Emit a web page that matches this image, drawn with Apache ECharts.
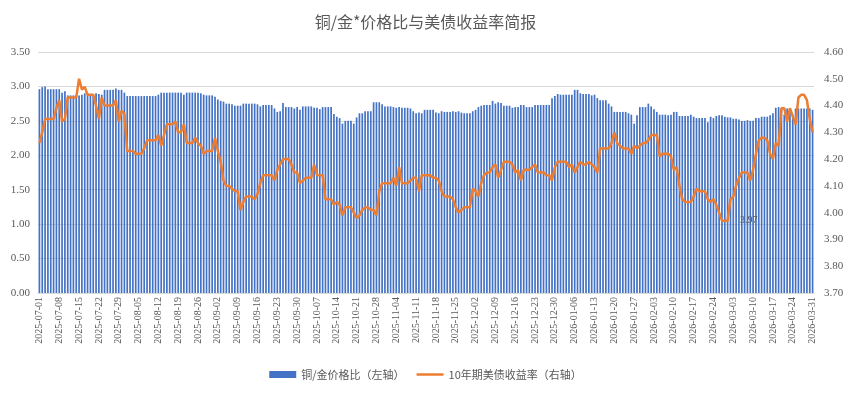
<!DOCTYPE html>
<html>
<head>
<meta charset="utf-8">
<script src="https://cdn.jsdelivr.net/npm/echarts@6/dist/echarts.min.js"></script>
<style>
html, body { margin: 0; padding: 0; background: #fff; }
#main { width: 851px; height: 397px; }
</style>
</head>
<body>
<div id="main"></div>
<script>
// daily categories 2025-07-01 .. 2026-03-31
var startDate = Date.UTC(2025, 6, 1);
var dayCount = 274;
var dates = [];
for (var d = 0; d < dayCount; d++) {
	dates.push(new Date(startDate + d * 86400000).toISOString().slice(0, 10));
}

// copper / gold price ratio (left axis)
var ratio = [
	2.96, 2.99, 3.00, 2.96, 2.96, 2.96, 2.96,
	2.96, 2.91, 2.93, 2.87, 2.87, 2.87, 2.87,
	2.87, 2.88, 2.90, 2.90, 2.89, 2.89, 2.90,
	2.89, 2.88, 2.95, 2.95, 2.95, 2.95, 2.97,
	2.95, 2.95, 2.91, 2.86, 2.86, 2.86, 2.86,
	2.86, 2.86, 2.86, 2.86, 2.86, 2.86, 2.86,
	2.88, 2.91, 2.91, 2.91, 2.91, 2.91, 2.91,
	2.91, 2.91, 2.88, 2.91, 2.91, 2.91, 2.91,
	2.91, 2.90, 2.88, 2.87, 2.87, 2.87, 2.85,
	2.81, 2.79, 2.78, 2.75, 2.75, 2.74, 2.72,
	2.72, 2.72, 2.75, 2.75, 2.75, 2.75, 2.75,
	2.74, 2.71, 2.73, 2.73, 2.73, 2.73, 2.68,
	2.63, 2.64, 2.76, 2.70, 2.70, 2.70, 2.68,
	2.70, 2.66, 2.71, 2.71, 2.71, 2.71, 2.69,
	2.69, 2.67, 2.70, 2.70, 2.70, 2.70, 2.60,
	2.56, 2.54, 2.46, 2.50, 2.50, 2.50, 2.46,
	2.55, 2.61, 2.61, 2.64, 2.64, 2.64, 2.77,
	2.77, 2.77, 2.74, 2.71, 2.71, 2.71, 2.70,
	2.69, 2.70, 2.69, 2.69, 2.69, 2.68, 2.64,
	2.61, 2.62, 2.61, 2.66, 2.66, 2.66, 2.66,
	2.62, 2.61, 2.64, 2.63, 2.63, 2.63, 2.64,
	2.63, 2.64, 2.62, 2.61, 2.61, 2.61, 2.64,
	2.66, 2.70, 2.72, 2.73, 2.73, 2.73, 2.79,
	2.75, 2.77, 2.76, 2.72, 2.72, 2.72, 2.69,
	2.70, 2.70, 2.73, 2.73, 2.70, 2.70, 2.70,
	2.73, 2.73, 2.73, 2.73, 2.73, 2.73, 2.83,
	2.86, 2.89, 2.88, 2.88, 2.88, 2.88, 2.88,
	2.95, 2.95, 2.90, 2.89, 2.89, 2.89, 2.87,
	2.88, 2.83, 2.80, 2.80, 2.80, 2.75, 2.71,
	2.63, 2.63, 2.63, 2.63, 2.63, 2.61, 2.59,
	2.46, 2.58, 2.70, 2.70, 2.70, 2.75, 2.71,
	2.67, 2.63, 2.59, 2.59, 2.59, 2.58, 2.59,
	2.63, 2.63, 2.57, 2.57, 2.57, 2.57, 2.59,
	2.56, 2.54, 2.54, 2.54, 2.54, 2.48, 2.56,
	2.54, 2.57, 2.58, 2.58, 2.56, 2.55, 2.55,
	2.53, 2.53, 2.52, 2.50, 2.50, 2.51, 2.50,
	2.50, 2.54, 2.54, 2.56, 2.56, 2.56, 2.58,
	2.61, 2.69, 2.70, 2.68, 2.59, 2.68, 2.63,
	2.59, 2.68, 2.68, 2.68, 2.68, 2.68, 2.68,
	2.66
];

// 10y US treasury yield (right axis)
var yield10 = [
	4.26, 4.30, 4.35, 4.35, 4.35, 4.35, 4.39,
	4.42, 4.34, 4.35, 4.43, 4.43, 4.43, 4.43,
	4.50, 4.46, 4.47, 4.44, 4.44, 4.44, 4.40,
	4.35, 4.43, 4.40, 4.40, 4.40, 4.40, 4.42,
	4.34, 4.38, 4.37, 4.23, 4.23, 4.23, 4.22,
	4.22, 4.22, 4.24, 4.27, 4.27, 4.27, 4.27,
	4.29, 4.25, 4.29, 4.33, 4.33, 4.33, 4.34,
	4.30, 4.30, 4.33, 4.26, 4.26, 4.26, 4.28,
	4.26, 4.25, 4.22, 4.23, 4.23, 4.23, 4.28,
	4.23, 4.19, 4.12, 4.10, 4.10, 4.09, 4.08,
	4.08, 4.01, 4.04, 4.06, 4.06, 4.06, 4.05,
	4.07, 4.11, 4.14, 4.14, 4.14, 4.14, 4.12,
	4.16, 4.18, 4.20, 4.20, 4.20, 4.18, 4.15,
	4.15, 4.11, 4.12, 4.13, 4.13, 4.13, 4.18,
	4.14, 4.14, 4.14, 4.05, 4.05, 4.05, 4.03,
	4.04, 4.03, 3.99, 4.02, 4.02, 4.02, 4.00,
	3.98, 3.99, 4.01, 4.02, 4.02, 4.01, 4.01,
	3.99, 4.08, 4.11, 4.11, 4.11, 4.11, 4.13,
	4.10, 4.17, 4.11, 4.11, 4.11, 4.12, 4.13,
	4.13, 4.08, 4.14, 4.14, 4.14, 4.14, 4.13,
	4.13, 4.12, 4.08, 4.06, 4.06, 4.06, 4.05,
	4.02, 4.00, 4.01, 4.02, 4.02, 4.02, 4.09,
	4.08, 4.06, 4.11, 4.14, 4.15, 4.15, 4.17,
	4.18, 4.13, 4.16, 4.19, 4.19, 4.19, 4.18,
	4.15, 4.16, 4.12, 4.16, 4.16, 4.16, 4.17,
	4.18, 4.15, 4.15, 4.15, 4.14, 4.14, 4.12,
	4.17, 4.19, 4.19, 4.19, 4.19, 4.17, 4.18,
	4.15, 4.17, 4.19, 4.18, 4.18, 4.19, 4.18,
	4.17, 4.15, 4.24, 4.24, 4.24, 4.24, 4.26,
	4.30, 4.26, 4.25, 4.24, 4.24, 4.24, 4.22,
	4.25, 4.24, 4.25, 4.26, 4.26, 4.27, 4.29,
	4.29, 4.29, 4.21, 4.22, 4.22, 4.22, 4.21,
	4.16, 4.17, 4.10, 4.05, 4.04, 4.04, 4.04,
	4.06, 4.09, 4.08, 4.08, 4.08, 4.05, 4.04,
	4.05, 4.03, 4.00, 3.97, 3.97, 3.97, 4.05,
	4.06, 4.10, 4.13, 4.15, 4.15, 4.15, 4.12,
	4.16, 4.22, 4.27, 4.28, 4.28, 4.27, 4.22,
	4.20, 4.26, 4.25, 4.39, 4.39, 4.34, 4.39,
	4.36, 4.33, 4.43, 4.44, 4.44, 4.42, 4.35,
	4.30
];

var textColor = '#595959';
var numFont = 'Liberation Serif';
var cjkFont = 'Noto Sans CJK SC';

var myChart = echarts.init(document.getElementById('main'));

myChart.setOption({
	animation: false,
	title: {
		text: '铜/金*价格比与美债收益率简报',
		left: 'center',
		top: 9,
		textStyle: {
			fontFamily: cjkFont,
			fontSize: 16,
			fontWeight: 'normal',
			color: textColor
		}
	},
	legend: {
		bottom: 12,
		left: 'center',
		itemWidth: 27,
		itemHeight: 7,
		itemGap: 12,
		symbolKeepAspect: true,
		textStyle: {
			fontFamily: cjkFont,
			fontSize: 11,
			color: textColor
		},
		data: [
			{ name: '铜/金价格比（左轴）', icon: 'rect' },
			{ name: '10年期美债收益率（右轴）', icon: 'path://M0,0 L27,0 L27,2.5 L0,2.5 Z' }
		]
	},
	grid: {
		left: 38,
		right: 37,
		top: 52,
		bottom: 104
	},
	xAxis: {
		type: 'category',
		data: dates,
		axisTick: { show: false },
		axisLine: { lineStyle: { color: '#d9d9d9' } },
		axisLabel: {
			interval: 6,
			rotate: 90,
			fontFamily: numFont,
			fontSize: 10,
			color: textColor,
			margin: 4
		}
	},
	yAxis: [{
		type: 'value',
		min: 0,
		max: 3.5,
		interval: 0.5,
		axisLine: { show: false },
		axisTick: { show: false },
		axisLabel: {
			fontFamily: numFont,
			fontSize: 11,
			color: textColor,
			formatter: function (v) { return v.toFixed(2); }
		},
		splitLine: { lineStyle: { color: '#d9d9d9' } }
	}, {
		type: 'value',
		min: 3.7,
		max: 4.6,
		interval: 0.1,
		axisLine: { show: false },
		axisTick: { show: false },
		axisLabel: {
			fontFamily: numFont,
			fontSize: 11,
			color: textColor,
			margin: 10,
			formatter: function (v) { return v.toFixed(2); }
		},
		splitLine: { show: false }
	}],
	series: [{
		name: '铜/金价格比（左轴）',
		type: 'bar',
		data: ratio,
		barCategoryGap: '40%',
		itemStyle: { color: '#4472C4' }
	}, {
		name: '10年期美债收益率（右轴）',
		type: 'line',
		yAxisIndex: 1,
		data: yield10,
		symbol: 'none',
		lineStyle: { color: '#ED7D31', width: 2.5 },
		itemStyle: { color: '#ED7D31' },
		markPoint: {
			symbol: 'circle',
			symbolSize: 0,
			data: [{ type: 'min' }],
			label: {
				show: true,
				position: 'right',
				distance: 18,
				fontFamily: numFont,
				fontSize: 10,
				color: textColor,
				formatter: function (p) { return p.value.toFixed(2); }
			}
		}
	}]
});
</script>
</body>
</html>
